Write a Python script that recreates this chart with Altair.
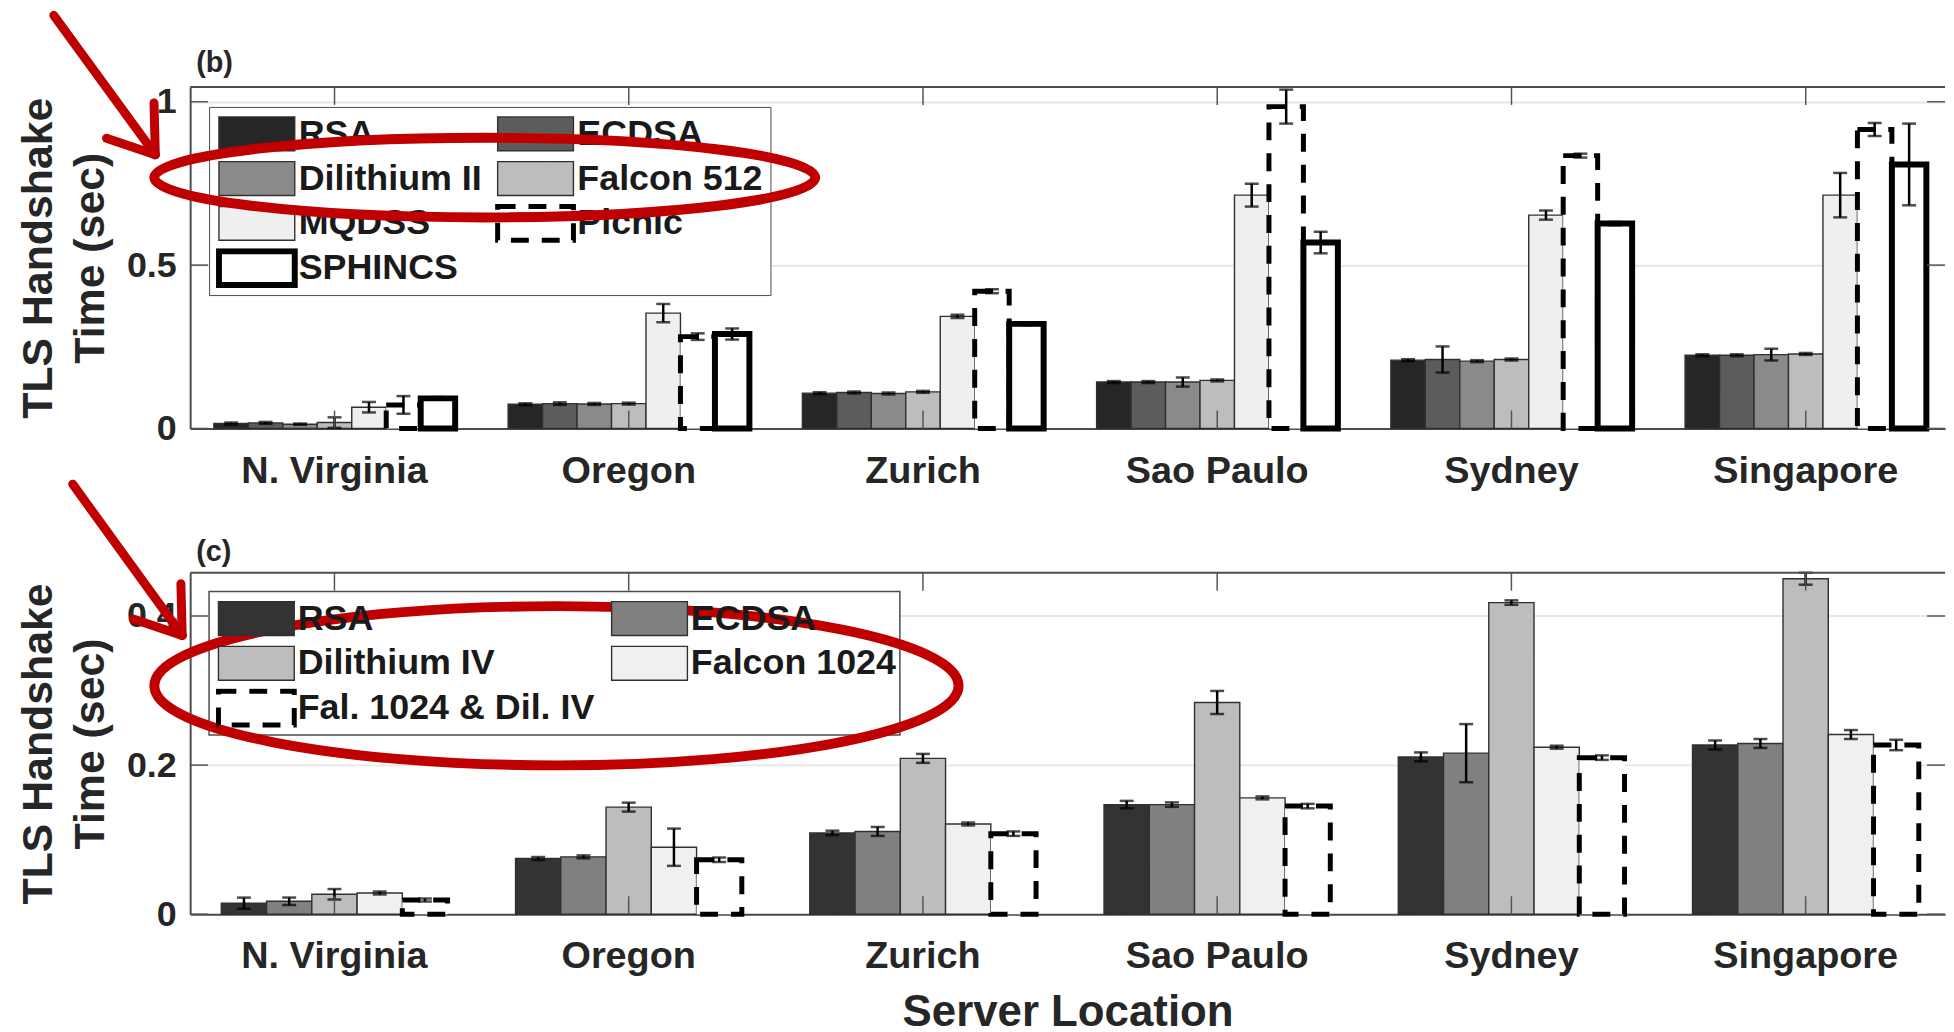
import altair as alt
import pandas as pd

FONT = "Liberation Sans"
TXT = "#262626"
AXC = "#4d4d4d"
RED = "#c00000"

# ---------------- data ----------------
locations = ["N. Virginia", "Oregon", "Zurich", "Sao Paulo", "Sydney", "Singapore"]

b_series = ["RSA", "ECDSA", "Dilithium II", "Falcon 512", "MQDSS", "Picnic", "SPHINCS"]
b_rsa = [0.015, 0.074, 0.108, 0.142, 0.209, 0.224]
b_ecdsa = [0.017, 0.076, 0.110, 0.142, 0.211, 0.224]
b_dil2 = [0.013, 0.075, 0.107, 0.142, 0.206, 0.226]
b_fal512 = [0.018, 0.076, 0.112, 0.147, 0.211, 0.228]
b_mqdss = [0.065, 0.353, 0.343, 0.714, 0.653, 0.714]
b_picnic = [0.072, 0.281, 0.420, 0.985, 0.835, 0.915]
b_sphincs = [0.092, 0.289, 0.320, 0.569, 0.627, 0.808]
b_rsa_err = [0.003, 0.003, 0.003, 0.003, 0.003, 0.003]
b_ecdsa_err = [0.003, 0.004, 0.003, 0.003, 0.040, 0.003]
b_dil2_err = [0.002, 0.003, 0.003, 0.014, 0.003, 0.018]
b_fal512_err = [0.016, 0.003, 0.003, 0.003, 0.003, 0.003]
b_mqdss_err = [0.016, 0.028, 0.005, 0.035, 0.014, 0.068]
b_picnic_err = [0.027, 0.010, 0.006, 0.052, 0.006, 0.020]
b_sphincs_err = [0.004, 0.017, 0.004, 0.033, 0.005, 0.125]

c_series = ["RSA", "ECDSA", "Dilithium IV", "Falcon 1024", "Fal. 1024 & Dil. IV"]
c_rsa = [0.0147, 0.0747, 0.109, 0.147, 0.211, 0.227]
c_ecdsa = [0.0173, 0.0769, 0.111, 0.147, 0.216, 0.229]
c_dil4 = [0.0267, 0.1436, 0.209, 0.284, 0.418, 0.450]
c_fal1024 = [0.0284, 0.0898, 0.121, 0.156, 0.224, 0.241]
c_hybrid = [0.019, 0.073, 0.108, 0.145, 0.210, 0.227]
c_rsa_err = [0.0075, 0.002, 0.003, 0.005, 0.006, 0.006]
c_ecdsa_err = [0.005, 0.002, 0.006, 0.003, 0.039, 0.006]
c_dil4_err = [0.007, 0.006, 0.006, 0.0155, 0.003, 0.008]
c_fal1024_err = [0.002, 0.025, 0.002, 0.002, 0.002, 0.006]
c_hybrid_err = [0.002, 0.003, 0.003, 0.003, 0.003, 0.007]

b_ticks = [0, 0.5, 1]
c_ticks = [0, 0.2, 0.4]


def build(series, values, errors, key):
    rows = []
    for s, vals, errs in zip(series, values, errors):
        for loc, v, e in zip(locations, vals, errs):
            rows.append({"location": loc, key: s, "value": v, "lo": v - e, "hi": v + e})
    return pd.DataFrame(rows)


df_b = build(b_series,
             [b_rsa, b_ecdsa, b_dil2, b_fal512, b_mqdss, b_picnic, b_sphincs],
             [b_rsa_err, b_ecdsa_err, b_dil2_err, b_fal512_err, b_mqdss_err, b_picnic_err, b_sphincs_err],
             "sb")
df_c = build(c_series,
             [c_rsa, c_ecdsa, c_dil4, c_fal1024, c_hybrid],
             [c_rsa_err, c_ecdsa_err, c_dil4_err, c_fal1024_err, c_hybrid_err],
             "sc")
loc_df = pd.DataFrame({"location": locations})
one = pd.DataFrame({"k": [0]})

# ---------------- geometry / style ----------------
W = 1763
H = 343
GAP = 145
PLOT_LEFT = 190.0
B_TOP = 85.0
C_TOP = B_TOP + H + GAP

SYM = "M-2.24,-1H2.24V1H-2.24Z"


def legend(x, y, fill, stroke, colpad):
    kw = dict(title=None, orient="none", legendX=x, legendY=y, columns=2,
              direction="horizontal", clipHeight=40,
              columnPadding=colpad, rowPadding=5, padding=7,
              symbolType=SYM, symbolSize=34 * 34, symbolOffset=21, labelOffset=22,
              labelFont=FONT, labelFontSize=36, labelFontWeight="bold",
              labelColor="#1a1a1a", labelLimit=0)
    if fill:
        kw["fillColor"] = fill
    if stroke:
        kw["strokeColor"] = stroke
    return alt.Legend(**kw)


def y_axis(vals):
    return alt.Axis(values=vals, format="~g", grid=True, gridColor="#e6e6e6", gridWidth=2,
                    ticks=False, domain=True, domainColor=AXC, domainWidth=2,
                    labelFont=FONT, labelFontSize=36, labelFontWeight="bold", labelColor=TXT,
                    labelPadding=14, title=["TLS Handshake", "Time (sec)"], titleFont=FONT,
                    titleFontSize=43, titleFontWeight="bold", titleColor=TXT,
                    titleLineHeight=52, titlePadding=14, titleLimit=2000)


def x_axis(title):
    kw = dict(labelAngle=0, ticks=False, domain=True, domainColor=AXC, domainWidth=2,
              labelFont=FONT, labelFontSize=38, labelFontWeight="bold", labelColor=TXT,
              labelPadding=24, labelLimit=0, grid=False)
    if title:
        kw.update(title=title, titleFont=FONT, titleFontSize=44, titleFontWeight="bold",
                  titleColor=TXT, titlePadding=15)
    else:
        kw["title"] = None
    return alt.Axis(**kw)


def panel(df, key, series, fills, strokes, widths, dashes, ydom, yticks, pin, pout, align,
          xtitle, leg, label, extra_layers):
    xs = alt.Scale(domain=locations, paddingInner=pin, paddingOuter=pout, align=align)
    X = alt.X("location:N", sort=locations, scale=xs, axis=x_axis(xtitle))
    XO = alt.XOffset(f"{key}:N", sort=series,
                     scale=alt.Scale(domain=series, paddingInner=0, paddingOuter=0))
    ys = alt.Scale(domain=ydom, nice=False, zero=True)
    ax = y_axis(yticks)
    base = alt.Chart(df)
    bars = base.mark_bar().encode(
        x=X, xOffset=XO,
        y=alt.Y("value:Q", scale=ys, axis=ax),
        fill=alt.Fill(f"{key}:N", scale=alt.Scale(domain=series, range=fills), legend=leg),
        stroke=alt.Stroke(f"{key}:N", scale=alt.Scale(domain=series, range=strokes), legend=leg),
        strokeWidth=alt.StrokeWidth(f"{key}:N", scale=alt.Scale(type="ordinal", domain=series, range=widths), legend=leg),
        strokeDash=alt.StrokeDash(f"{key}:N", scale=alt.Scale(domain=series, range=dashes), legend=leg),
    )
    err = base.mark_rule(color="black", strokeWidth=2.5).encode(
        x=X, xOffset=XO, y=alt.Y("lo:Q", scale=ys, axis=ax), y2="hi:Q")
    cap_lo = base.mark_tick(color="black", thickness=2.5, size=14).encode(
        x=X, xOffset=XO, y=alt.Y("lo:Q", scale=ys, axis=ax))
    cap_hi = base.mark_tick(color="black", thickness=2.5, size=14).encode(
        x=X, xOffset=XO, y=alt.Y("hi:Q", scale=ys, axis=ax))
    tick_df = pd.DataFrame({"v": yticks})
    xt_bot = alt.Chart(loc_df).mark_rule(color="#555555", strokeWidth=1.5).encode(
        x=X, y=alt.value(H), y2=alt.value(H - 18))
    xt_top = alt.Chart(loc_df).mark_rule(color="#555555", strokeWidth=1.5).encode(
        x=X, y=alt.value(0), y2=alt.value(18))
    yt_l = alt.Chart(tick_df).mark_rule(color="#555555", strokeWidth=1.5).encode(
        y=alt.Y("v:Q", scale=ys, axis=ax), x=alt.value(0), x2=alt.value(18))
    yt_r = alt.Chart(tick_df).mark_rule(color="#555555", strokeWidth=1.5).encode(
        y=alt.Y("v:Q", scale=ys, axis=ax), x=alt.value(W - 18), x2=alt.value(W))
    top = alt.Chart(one).mark_rule(color=AXC, strokeWidth=2).encode(
        x=alt.value(0), x2=alt.value(W), y=alt.value(0))
    lab = alt.Chart(one).mark_text(text=label[0], align="left", baseline="alphabetic",
                                   font=FONT, fontSize=29, fontWeight="bold", color=TXT).encode(
        x=alt.value(6), y=alt.value(label[1]))
    layers = [bars, err, cap_lo, cap_hi, xt_bot, xt_top, yt_l, yt_r, top, lab] + extra_layers
    return alt.layer(*layers).properties(width=W, height=H)


# ---------------- annotations (pixel positions, relative to panel c) ----------------
def rel(x, y):
    return x - PLOT_LEFT, y - C_TOP


def seg(p, q, w=9):
    (x1, y1), (x2, y2) = rel(*p), rel(*q)
    return alt.Chart(one).mark_rule(color=RED, strokeWidth=w, strokeCap="round").encode(
        x=alt.value(x1), y=alt.value(y1), x2=alt.value(x2), y2=alt.value(y2))


def ellipse(cx, cy, a, b, w=10):
    x, y = rel(cx, cy)
    r = b / a
    path = f"M-1,0A1,{r:.4f} 0 1,0 1,0A1,{r:.4f} 0 1,0 -1,0"
    return alt.Chart(one).mark_point(shape=path, size=(2 * a) ** 2, filled=False, stroke=RED,
                                     strokeWidth=w, opacity=1).encode(
        x=alt.value(x), y=alt.value(y))


def arrow(start, tip):
    ax_, ay_ = tip
    return [seg(start, tip), seg(tip, (ax_ - 49, ay_ - 16.6)), seg(tip, (ax_ - 1.3, ay_ - 52))]


lx0, ly0 = rel(209, 591.7)
lx1, ly1 = rel(903, 736)
legend_bg = alt.Chart(one).mark_rect(fill="white", stroke=AXC, strokeWidth=1.5).encode(
    x=alt.value(lx0), x2=alt.value(lx1), y=alt.value(ly0), y2=alt.value(ly1))

annot = [legend_bg,
         ellipse(558, 686.5, 404, 80),
         ellipse(486, 176, 332, 40)] + arrow((53, 13), (155, 153)) + arrow((72, 484), (182, 636))

# ---------------- panels ----------------
panel_b = panel(df_b, "sb", b_series,
                ["#262626", "#5c5c5c", "#8a8a8a", "#bdbdbd", "#efefef", "#ffffff", "#ffffff"],
                ["#303030"] * 5 + ["#000000", "#000000"],
                [1.4] * 5 + [5, 6],
                [[1, 0]] * 5 + [[18, 13], [1, 0]],
                [0, 1.045], b_ticks, 0.18, 0.072, 0.56, None,
                legend(19, 20, "white", AXC, 13), ("(b)", -15), [])

panel_c = panel(df_c, "sc", c_series,
                ["#333333", "#808080", "#bdbdbd", "#f0f0f0", "#ffffff"],
                ["#303030"] * 4 + ["#000000"],
                [1.4] * 4 + [5],
                [[1, 0]] * 4 + [[18, 13]],
                [0, 0.458], c_ticks, 0.231, 0.0975, 0.543, "Server Location",
                legend(round(lx0), round(ly0), None, None, 14), ("(c)", -12), annot)

chart = alt.vconcat(panel_b, panel_c, spacing=GAP, bounds="flush").resolve_scale(
    x="independent", y="independent", xOffset="independent", fill="independent",
    stroke="independent", strokeWidth="independent", strokeDash="independent"
).resolve_legend(
    fill="independent", stroke="independent", strokeWidth="independent", strokeDash="independent"
).properties(
    padding={"left": 9, "top": 0, "right": 0, "bottom": 0}
).configure_view(stroke=None)

chart.save("out.html", embed_options={"renderer": "svg", "actions": False})
